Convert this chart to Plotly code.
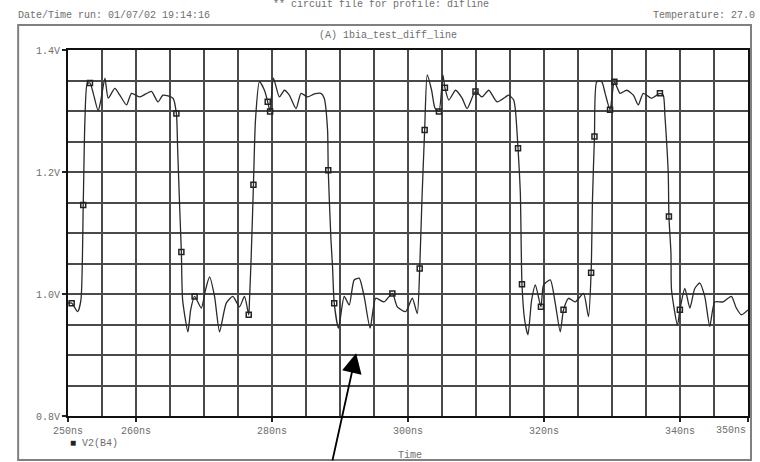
import plotly.graph_objects as go

# ---- data (time in ns, voltage in V) ----
time_ns = [250.0, 250.54, 251.42, 251.9, 252.24, 252.49, 252.83, 253.23, 253.67, 254.44, 254.84,
           255.43, 255.91, 256.89, 257.62, 258.61, 259.34, 260.56, 261.44, 262.27, 263.24, 263.97,
           265.44, 265.94, 266.13, 266.42, 266.67, 266.86, 267.64, 268.04, 268.62, 269.60, 270.23,
           270.82, 271.55, 272.29, 273.27, 274.24, 275.22, 275.95, 276.58, 276.69, 276.94, 277.27,
           277.57, 278.15, 278.89, 279.37, 279.72, 280.21, 281.09, 281.82, 282.55, 283.54, 284.27,
           285.23, 286.22, 287.20, 287.68, 288.17, 288.27, 288.67, 288.90, 289.15, 289.78, 290.62,
           291.35, 292.08, 292.82, 293.55, 294.43, 295.26, 296.48, 297.70, 298.43, 299.66, 300.63,
           301.36, 301.72, 302.05, 302.45, 302.83, 303.47, 303.96, 304.55, 305.13, 305.43, 306.01,
           306.99, 307.96, 308.69, 309.92, 310.89, 311.88, 313.09, 314.33, 314.81, 315.54, 315.79,
           316.18, 316.52, 316.76, 317.16, 317.64, 318.18, 318.73, 319.55, 319.94, 320.92, 321.65,
           322.39, 322.87, 323.61, 324.59, 325.81, 326.54, 326.93, 327.13, 327.42, 327.76, 328.49,
           328.99, 329.71, 330.35, 331.19, 332.16, 333.14, 333.87, 334.60, 335.82, 337.05, 337.54,
           337.79, 338.27, 338.37, 338.67, 338.75, 339.63, 339.98, 340.71, 341.45, 342.17, 342.91,
           343.64, 344.38, 345.11, 346.33, 347.55, 348.28, 349.02, 350.0]
v2_b4 = [0.985, 0.985, 0.971, 0.990, 1.146, 1.285, 1.345, 1.346, 1.331, 1.300, 1.318,
         1.354, 1.321, 1.337, 1.326, 1.310, 1.329, 1.323, 1.328, 1.332, 1.315, 1.326,
         1.321, 1.296, 1.236, 1.143, 1.069, 0.990, 0.938, 0.974, 0.996, 0.977, 1.007,
         1.028, 0.996, 0.938, 0.985, 0.996, 0.979, 0.996, 0.966, 0.990, 1.061, 1.179,
         1.285, 1.348, 1.334, 1.315, 1.299, 1.354, 1.323, 1.334, 1.326, 1.304, 1.329,
         1.323, 1.328, 1.329, 1.321, 1.269, 1.203, 1.089, 1.045, 0.985, 0.944, 0.996,
         0.982, 1.023, 1.026, 0.996, 0.944, 0.993, 0.987, 1.001, 0.979, 0.971, 0.993,
         0.968, 1.042, 1.154, 1.269, 1.359, 1.334, 1.305, 1.299, 1.359, 1.338, 1.318,
         1.334, 1.321, 1.304, 1.332, 1.323, 1.334, 1.315, 1.323, 1.326, 1.318, 1.302,
         1.239, 1.165, 1.016, 0.957, 0.933, 0.990, 1.015, 0.979, 1.015, 1.023, 0.985,
         0.938, 0.974, 0.993, 0.987, 1.001, 0.963, 1.035, 1.154, 1.258, 1.348, 1.348,
         1.329, 1.302, 1.348, 1.329, 1.334, 1.326, 1.310, 1.329, 1.321, 1.329, 1.326,
         1.291, 1.198, 1.127, 1.067, 1.007, 0.949, 0.974, 1.009, 0.977, 1.009, 1.018,
         0.996, 0.947, 0.987, 0.987, 0.996, 0.977, 0.966, 0.974]

marker_t = [250.54, 252.24, 253.23, 265.94, 266.67, 268.62, 276.58, 277.27, 279.37, 279.72,
            288.27, 289.15, 297.70, 301.72, 302.45, 304.55, 305.43, 309.92, 316.18, 316.76,
            319.55, 322.87, 326.93, 327.42, 329.71, 330.35, 337.05, 338.37, 339.98]
marker_v = [0.985, 1.146, 1.346, 1.296, 1.069, 0.996, 0.966, 1.179, 1.315, 1.299,
            1.203, 0.985, 1.001, 1.042, 1.269, 1.299, 1.338, 1.332, 1.239, 1.016,
            0.979, 0.974, 1.035, 1.258, 1.302, 1.348, 1.329, 1.127, 0.974]

x_tick_vals = [250, 260, 280, 300, 320, 340, 350]
x_tick_text = ["250ns", "260ns", "280ns", "300ns", "320ns", "340ns", ""]
x_last_label = "350ns"
y_tick_vals = [0.8, 1.0, 1.2, 1.4]
y_tick_text = ["0.8V", "1.0V", "1.2V", "1.4V"]

MONO = "Liberation Mono, DejaVu Sans Mono, monospace"
GRID = "#4a4a4a"
TXT = "#6e6e6e"

fig = go.Figure()
fig.add_trace(go.Scatter(x=time_ns, y=v2_b4, mode="lines",
                         line=dict(color="#2a2a2a", width=1.3, shape="spline", smoothing=0.6),
                         showlegend=False, hoverinfo="skip"))
fig.add_trace(go.Scatter(x=marker_t, y=marker_v, mode="markers",
                         marker=dict(symbol="square-open", size=5, color="#222222",
                                     line=dict(width=1.5, color="#222222")),
                         showlegend=False, hoverinfo="skip"))

fig.update_layout(
    width=760, height=462,
    margin=dict(l=68, r=10, t=50, b=46),
    paper_bgcolor="white", plot_bgcolor="white",
    font=dict(family=MONO, size=10, color=TXT),
    xaxis=dict(range=[250, 350], tickvals=x_tick_vals, ticktext=x_tick_text,
               showgrid=True, gridcolor=GRID, gridwidth=2,
               ticks="outside", ticklen=4, tickcolor="#222", tickwidth=1.5,
               showline=True, linecolor="#111", linewidth=2, mirror=True,
               zeroline=False, tickfont=dict(family=MONO, size=10, color=TXT),
               minor=dict(dtick=5, tick0=250, showgrid=True, gridcolor=GRID, gridwidth=2, ticks="")),
    yaxis=dict(range=[0.8, 1.4], tickvals=y_tick_vals, ticktext=y_tick_text,
               showgrid=True, gridcolor=GRID, gridwidth=2,
               ticks="outside", ticklen=4, tickcolor="#222", tickwidth=1.5,
               showline=True, linecolor="#111", linewidth=2, mirror=True,
               zeroline=False, tickfont=dict(family=MONO, size=10, color=TXT),
               minor=dict(dtick=0.05, tick0=0.8, showgrid=True, gridcolor=GRID, gridwidth=2, ticks="")),
)

W, H, L, T = 682.0, 366.0, 68.0, 50.0
def px(x):
    return (x - L) / W
def py(y):
    return (T + H - y) / H

# outer frame
fig.add_shape(type="rect", xref="paper", yref="paper",
              x0=px(18), x1=px(753), y0=py(460), y1=py(25),
              line=dict(color="#808080", width=2), layer="below")

def txt(s, x, y, xanchor="left", size=10, color=TXT):
    fig.add_annotation(text=s, xref="paper", yref="paper", x=px(x), y=py(y),
                       xanchor=xanchor, yanchor="middle", showarrow=False,
                       font=dict(family=MONO, size=size, color=color))

txt("** circuit file for profile: difline", 272, 5)
txt("Date/Time run: 01/07/02 19:14:16", 16, 15)
txt("Temperature: 27.0", 759, 15, xanchor="right")
txt("(A) 1bia_test_diff_line", 318, 35)
txt(x_last_label, 750, 430, xanchor="right")
txt("<span style='color:#222'>■</span> V2(B4)", 68, 443)
txt("Time", 397, 456)

# arrow
fig.add_annotation(x=292.37, y=0.903, xref="x", yref="y", text="", showarrow=True,
                   ax=-24, ay=109, axref="pixel", ayref="pixel",
                   arrowhead=2, arrowsize=2.2, arrowwidth=1.8, arrowcolor="black")

fig.write_html("out.html")
